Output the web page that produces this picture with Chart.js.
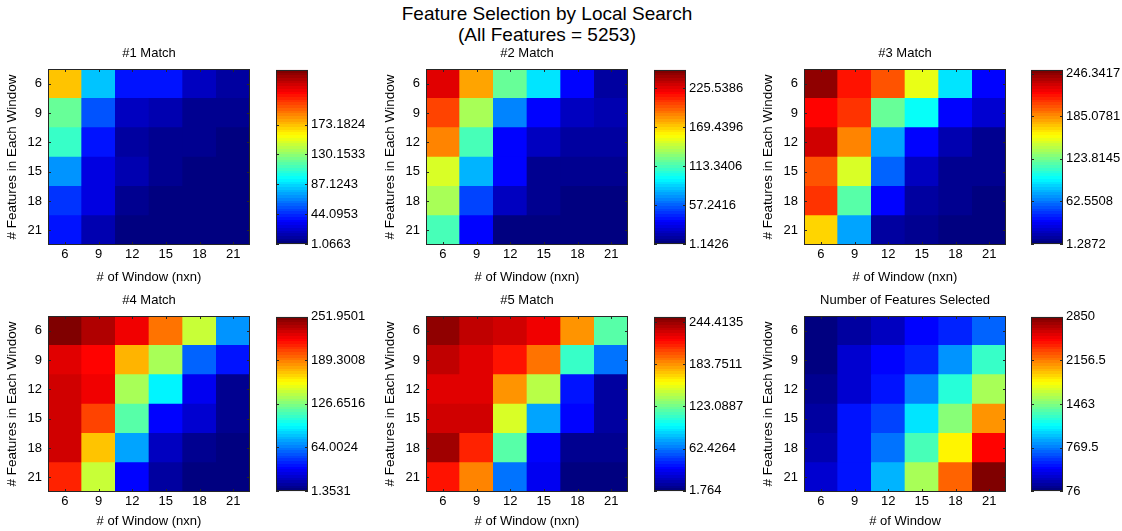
<!DOCTYPE html>
<html>
<head>
<meta charset="utf-8">
<title>Feature Selection by Local Search</title>
<script src="https://cdn.jsdelivr.net/npm/chart.js@4.4.1/dist/chart.umd.min.js"></script>
<style>
  body { margin: 0; background: #fff; }
  #fig { position: relative; width: 1122px; height: 531px; overflow: hidden;
         font-family: "Liberation Sans", Arial, sans-serif; }
  #fig canvas { position: absolute; }
  #title { position: absolute; left: 347px; width: 400px; top: 3px; text-align: center;
           font-size: 19px; line-height: 21px; color: #000; }
</style>
</head>
<body>
<div id="fig">
  <div id="title">Feature Selection by Local Search<br>(All Features = 5253)</div>
</div>
<script>
// Axis categories
const windowSizes = [6, 9, 12, 15, 18, 21];     // # of Window (x)
const featureCounts = [6, 9, 12, 15, 18, 21];   // # Features in Each Window (y, top to bottom)

// Cell values, one row per feature count (6 at top), one column per window size
const match1 = [
  [173.1824, 81, 40, 37, 19, 11],
  [120, 54, 18, 13, 8, 6],
  [110, 37, 11, 6, 5, 4],
  [69, 26, 16, 5, 4, 3],
  [46, 26, 5, 3, 2, 2],
  [40, 13, 4, 2, 1.0663, 1.5]
];
const match2 = [
  [225.5386, 179, 120, 89, 36, 11],
  [201, 137, 67, 36, 17, 13],
  [188, 114, 34, 18, 10, 10],
  [149, 79, 34, 8, 6, 5],
  [137, 51, 17, 5, 4, 3],
  [111, 34, 3, 2, 1.1426, 1.5]
];
const match3 = [
  [246.3417, 216, 199, 152, 89, 36],
  [218, 208, 120, 96, 36, 21],
  [232, 188, 74, 34, 13, 8],
  [199, 149, 59, 18, 8, 5],
  [208, 117, 34, 12, 6, 4],
  [168, 74, 12, 5, 3, 1.2872]
];
const match4 = [
  [251.9501, 239, 224, 193, 145, 71],
  [227, 220, 177, 137, 59, 38],
  [230, 221, 135, 95, 30, 8],
  [230, 204, 117, 36, 21, 6],
  [230, 172, 74, 18, 5, 3],
  [211, 145, 36, 12, 3, 1.3531]
];
const match5 = [
  [244.4135, 233, 230, 222, 184, 118],
  [233, 225, 214, 191, 109, 61],
  [228, 228, 184, 139, 38, 12],
  [230, 229, 149, 74, 36, 10],
  [243, 211, 118, 36, 8, 5],
  [216, 186, 61, 32, 3, 1.764]
];
const featuresSelected = [
  [76, 187, 270, 437, 520, 714],
  [100, 300, 437, 520, 853, 1269],
  [130, 326, 506, 770, 1240, 1588],
  [180, 478, 603, 1047, 1463, 2100],
  [230, 478, 742, 1324, 1810, 2490],
  [300, 506, 936, 1574, 2212, 2850]
];

// Colorbar tick labels
const match1Ticks = [1.0663, 44.0953, 87.1243, 130.1533, 173.1824];
const match2Ticks = [1.1426, 57.2416, 113.3406, 169.4396, 225.5386];
const match3Ticks = [1.2872, 62.5508, 123.8145, 185.0781, 246.3417];
const match4Ticks = [1.3531, 64.0024, 126.6516, 189.3008, 251.9501];
const match5Ticks = [1.764, 62.4264, 123.0887, 183.7511, 244.4135];
const featuresTicks = [76, 769.5, 1463, 2156.5, 2850];

// Colour limits (the five match plots share one scale)
const matchLimits = [1.0663, 251.9501];
const featuresLimits = [76, 2850];

Chart.defaults.font.family = '"Liberation Sans", Arial, sans-serif';
Chart.defaults.font.size = 13;
Chart.defaults.color = '#000';
Chart.defaults.animation = false;
Chart.defaults.plugins.legend.display = false;
Chart.defaults.plugins.tooltip.enabled = false;

// MATLAB style jet colormap, 64 levels
function jetLevel(k) {
  const x = k / 63;
  const c = v => Math.round(255 * Math.max(0, Math.min(1, v)));
  return `rgb(${c(1.5 - Math.abs(4 * x - 3))},${c(1.5 - Math.abs(4 * x - 2))},${c(1.5 - Math.abs(4 * x - 1))})`;
}
function jetColor(v, lo, hi) {
  const k = Math.max(0, Math.min(63, Math.floor((v - lo) / (hi - lo) * 64)));
  return jetLevel(k);
}

// axes box with small inward tick marks
const boxPlugin = {
  id: 'box',
  afterDraw(chart) {
    const { ctx, chartArea: a } = chart;
    const x = chart.scales.x, y = chart.scales.y;
    ctx.save();
    ctx.strokeStyle = '#262626';
    ctx.lineWidth = 1;
    ctx.beginPath();
    if (x.options.display) {
      x.ticks.forEach((t, i) => {
        const px = Math.round(x.getPixelForTick(i)) + 0.5;
        ctx.moveTo(px, a.bottom); ctx.lineTo(px, a.bottom - 3);
        ctx.moveTo(px, a.top); ctx.lineTo(px, a.top + 3);
      });
    }
    y.ticks.forEach((t, i) => {
      const py = Math.round(y.getPixelForTick(i)) + 0.5;
      ctx.moveTo(a.left, py); ctx.lineTo(a.left + 3, py);
      ctx.moveTo(a.right, py); ctx.lineTo(a.right - 3, py);
    });
    ctx.stroke();
    ctx.strokeRect(Math.round(a.left) + 0.5, Math.round(a.top) + 0.5,
                   Math.round(a.right - a.left) - 1, Math.round(a.bottom - a.top) - 1);
    ctx.restore();
  }
};

// subtitle centred over the plot area
const subtitlePlugin = {
  id: 'subtitle',
  afterDraw(chart, args, opts) {
    if (!opts.text) return;
    const { ctx, chartArea: a } = chart;
    ctx.save();
    ctx.font = '13px "Liberation Sans", Arial, sans-serif';
    ctx.fillStyle = '#000';
    ctx.textAlign = 'center';
    ctx.textBaseline = 'middle';
    ctx.fillText(opts.text, (a.left + a.right) / 2, a.top - 16);
    ctx.restore();
  }
};

const panels = [
  { title: '#1 Match', values: match1, ticks: match1Ticks, lim: matchLimits, xTitle: '# of Window (nxn)', plotL: 48, plotT: 69, cbL: 276, xH: 40 },
  { title: '#2 Match', values: match2, ticks: match2Ticks, lim: matchLimits, xTitle: '# of Window (nxn)', plotL: 426, plotT: 69, cbL: 654, xH: 40 },
  { title: '#3 Match', values: match3, ticks: match3Ticks, lim: matchLimits, xTitle: '# of Window (nxn)', plotL: 804, plotT: 69, cbL: 1031, xH: 40 },
  { title: '#4 Match', values: match4, ticks: match4Ticks, lim: matchLimits, xTitle: '# of Window (nxn)', plotL: 48, plotT: 316, cbL: 276, xH: 37 },
  { title: '#5 Match', values: match5, ticks: match5Ticks, lim: matchLimits, xTitle: '# of Window (nxn)', plotL: 426, plotT: 316, cbL: 654, xH: 37 },
  { title: 'Number of Features Selected', values: featuresSelected, ticks: featuresTicks, lim: featuresLimits, xTitle: '# of Window', plotL: 804, plotT: 316, cbL: 1031, xH: 37 }
];

const PLOT_W = 202, PLOT_H = 176, Y_W = 44, TOP_PAD = 24, CB_W = 32;
const fig = document.getElementById('fig');

function addCanvas(left, top, w, h) {
  const c = document.createElement('canvas');
  c.width = w; c.height = h;
  c.style.left = left + 'px'; c.style.top = top + 'px';
  c.style.width = w + 'px'; c.style.height = h + 'px';
  fig.appendChild(c);
  return c;
}

panels.forEach(p => {
  // heatmap: one stacked dataset per row, bottom row first
  const rows = p.values.map(row => ({
    data: row.map(() => 1),
    backgroundColor: row.map(v => jetColor(v, p.lim[0], p.lim[1])),
    borderWidth: 0,
    barPercentage: 1,
    categoryPercentage: 1,
    clip: 0
  })).reverse();

  const hm = addCanvas(p.plotL - Y_W, p.plotT - TOP_PAD, Y_W + PLOT_W + 2, TOP_PAD + PLOT_H + p.xH);
  new Chart(hm, {
    type: 'bar',
    data: { labels: windowSizes.map(String), datasets: rows },
    options: {
      responsive: false,
      layout: { padding: { left: 0, right: 2, top: TOP_PAD, bottom: 0 } },
      plugins: { subtitle: { text: p.title } },
      scales: {
        x: {
          stacked: true,
          grid: { display: false, drawTicks: false },
          border: { display: false },
          ticks: { padding: 2, maxRotation: 0 },
          title: { display: true, text: p.xTitle, padding: { top: 0, bottom: 0 } },
          afterFit: s => { s.height = p.xH; }
        },
        y: {
          stacked: true,
          min: 0, max: featureCounts.length,
          grid: { display: false, drawTicks: false },
          border: { display: false },
          ticks: { padding: 6, callback: v => featureCounts[Math.round(featureCounts.length - 0.5 - v)] },
          afterBuildTicks: s => { s.ticks = featureCounts.map((f, i) => ({ value: featureCounts.length - 0.5 - i })); },
          title: { display: true, text: '# Features in Each Window', font: { size: 13.5 }, padding: { top: 0, bottom: 0 } },
          afterFit: s => { s.width = Y_W; }
        }
      }
    },
    plugins: [boxPlugin, subtitlePlugin]
  });

  // colorbar
  const cb = addCanvas(p.cbL, p.plotT - 10, CB_W + 64, PLOT_H + 20);
  new Chart(cb, {
    type: 'bar',
    data: {
      labels: [''],
      datasets: [{
        data: [[p.lim[0], p.lim[1]]],
        barPercentage: 1,
        categoryPercentage: 1,
        borderWidth: 0,
        inflateAmount: 0,
        clip: 0,
        backgroundColor: ctx => {
          const a = ctx.chart.chartArea;
          if (!a) return 'transparent';
          const g = ctx.chart.ctx.createLinearGradient(0, a.bottom, 0, a.top);
          for (let k = 0; k < 64; k++) {
            g.addColorStop(k / 64, jetLevel(k));
            g.addColorStop((k + 1) / 64, jetLevel(k));
          }
          return g;
        }
      }]
    },
    options: {
      responsive: false,
      layout: { padding: { left: 0, right: 0, top: 10, bottom: 10 } },
      scales: {
        x: { display: false },
        y: {
          position: 'right',
          min: p.lim[0], max: p.lim[1],
          grid: { display: false, drawTicks: false },
          border: { display: false },
          ticks: { padding: 3, callback: v => String(v) },
          afterBuildTicks: s => { s.ticks = p.ticks.map(v => ({ value: v })); },
          afterFit: s => { s.width = 64; }
        }
      }
    },
    plugins: [boxPlugin]
  });
});
</script>
</body>
</html>
